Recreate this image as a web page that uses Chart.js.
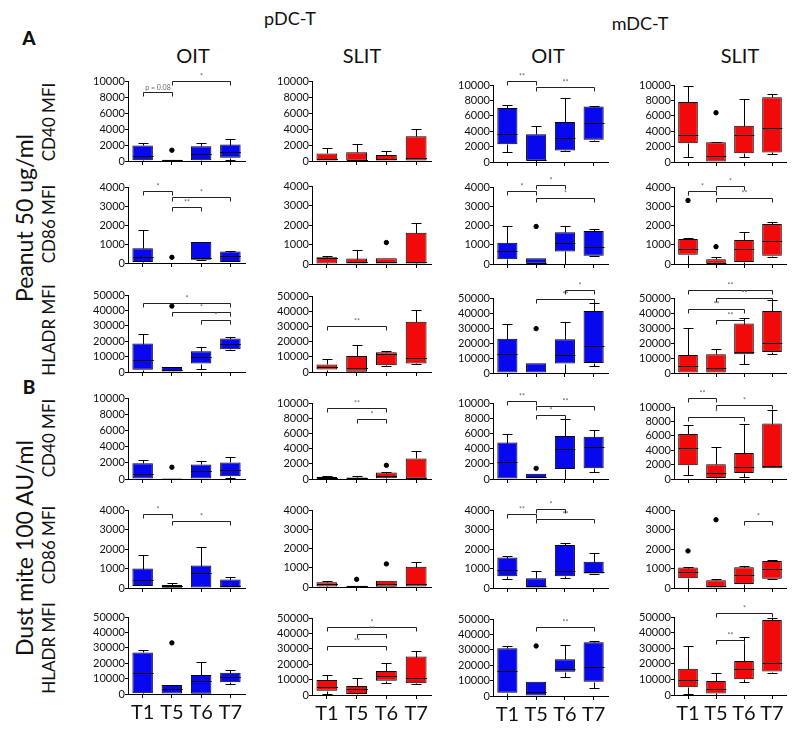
<!DOCTYPE html>
<html>
<head>
<meta charset="utf-8">
<script src="https://cdn.jsdelivr.net/npm/chart.js@4.4.1/dist/chart.umd.min.js"></script>
<style>
  body { margin: 0; background: #fff; }
  #page { position: relative; width: 800px; height: 731px; overflow: hidden; font-family: Lato, "Open Sans", sans-serif; color: #111; }
  #page canvas { position: absolute; }
  .t { position: absolute; white-space: nowrap; transform: translate(-50%, -50%); }
  .v { position: absolute; white-space: nowrap; transform: translate(-50%, -50%) rotate(-90deg); }
</style>
</head>
<body>
<div id="page">
  <div class="t" style="left:290px;top:18px;font-size:18px">pDC-T</div>
  <div class="t" style="left:640px;top:23px;font-size:18px">mDC-T</div>
  <div class="t" style="left:193px;top:55px;font-size:20px">OIT</div>
  <div class="t" style="left:362px;top:55px;font-size:20px">SLIT</div>
  <div class="t" style="left:548px;top:55px;font-size:20px">OIT</div>
  <div class="t" style="left:740px;top:55px;font-size:20px">SLIT</div>
  <div class="t" style="left:29px;top:37px;font-size:19px;font-weight:900">A</div>
  <div class="t" style="left:29px;top:386px;font-size:19px;font-weight:900">B</div>
  <div class="v" style="left:24px;top:218px;font-size:23px">Peanut 50 ug/ml</div>
  <div class="v" style="left:24px;top:548px;font-size:23px">Dust mite 100 AU/ml</div>
  <div class="v" style="left:48px;top:122px;font-size:17px">CD40 MFI</div>
  <div class="v" style="left:48px;top:224px;font-size:17px">CD86 MFI</div>
  <div class="v" style="left:48px;top:330px;font-size:17px">HLADR MFI</div>
  <div class="v" style="left:48px;top:438px;font-size:17px">CD40 MFI</div>
  <div class="v" style="left:48px;top:545px;font-size:17px">CD86 MFI</div>
  <div class="v" style="left:48px;top:648px;font-size:17px">HLADR MFI</div>
</div>
<script>
// Categories
const times = ['T1', 'T5', 'T6', 'T7'];

// Each box: [min, q1, median, q3, max]
// A - Peanut 50 ug/ml
const a40_pOIT  = [[0,100,650,1950,2300],[0,50,100,150,150],[0,100,900,1850,2250],[100,400,1100,2050,2700]];
const a40_pSLIT = [[0,50,200,950,1600],[0,50,100,1100,2100],[0,50,200,750,1300],[0,50,400,3100,4000]];
const a40_mOIT  = [[1300,2300,3650,7000,7400],[0,200,300,3600,4700],[1400,1500,3100,5200,8300],[2750,2900,5100,7200,7300]];
const a40_mSLIT = [[700,2450,3450,7800,9900],[0,0,800,2550,2650],[700,1150,3500,4700,8200],[1000,1250,4400,8400,8800]];

const a86_pOIT  = [[0,50,300,780,1750],[0,0,0,0,0],[150,170,250,1100,1100],[50,50,380,600,650]];
const a86_pSLIT = [[0,30,300,350,400],[0,20,100,280,740],[0,20,100,300,300],[0,30,100,1600,2100]];
const a86_mOIT  = [[0,250,650,1100,2000],[0,0,50,300,300],[0,650,1100,1650,2000],[400,430,900,1720,1800]];
const a86_mSLIT = [[0,480,800,1300,1350],[0,0,50,250,350],[0,100,800,1250,1650],[350,430,1200,2080,2200]];

const aHL_pOIT  = [[0,1500,8000,18500,25000],[0,0,1500,3300,3300],[2200,5500,10000,13500,16000],[14500,14800,18000,21700,23000]];
const aHL_pSLIT = [[0,1600,3300,5000,8500],[0,200,2500,10500,17500],[4000,4500,12000,13000,14000],[5500,5600,9500,33000,40500]];
const aHL_mOIT  = [[0,300,12500,22800,32500],[0,0,200,6500,6500],[0,6300,12000,22500,34000],[5000,6700,17800,41300,46700]];
const aHL_mSLIT = [[0,300,4500,12000,30000],[0,300,3600,12500,16300],[6000,12500,14000,33000,36500],[12500,14000,20000,41300,48500]];

// B - Dust mite 100 AU/ml
const b40_pOIT  = [[0,50,650,1950,2300],[0,30,50,100,100],[0,50,950,1800,2250],[100,350,1100,2050,2700]];
const b40_pSLIT = [[0,50,150,300,450],[0,30,100,200,400],[0,100,400,850,900],[0,50,150,2700,3700]];
const b40_mOIT  = [[0,50,2200,4800,5950],[100,100,300,700,700],[0,1300,3900,5650,7850],[900,1400,4250,5550,6500]];
const b40_mSLIT = [[600,1900,4250,6250,7550],[0,150,850,2050,4500],[300,850,1650,3600,7650],[1500,1500,1750,7700,9600]];

const b86_pOIT  = [[100,100,400,1000,1700],[0,10,100,150,270],[0,20,750,1150,2100],[0,20,80,430,580]];
const b86_pSLIT = [[0,30,150,250,320],[0,10,30,60,60],[0,10,150,330,330],[0,20,150,1050,1300]];
const b86_mOIT  = [[480,600,900,1560,1630],[0,0,100,500,870],[520,600,870,2200,2300],[700,740,800,1340,1770]];
const b86_mSLIT = [[0,500,820,1050,1100],[0,0,100,400,480],[0,200,680,1060,1120],[460,480,950,1380,1450]];

const bHL_pOIT  = [[0,500,13400,27000,28400],[0,0,3000,5800,5800],[0,100,8500,12300,20900],[6500,7600,10800,13800,15500]];
const bHL_pSLIT = [[650,2800,5400,9800,13000],[0,600,3700,5900,10900],[7600,9300,12400,15600,20600],[7200,7600,11000,25000,28700]];
const bHL_mOIT  = [[0,2100,16500,31000,32200],[0,0,2800,9300,9300],[12500,15800,17800,23800,33100],[5000,9300,19000,34900,35800]];
const bHL_mSLIT = [[500,5000,9700,16800,31600],[0,1000,3700,9000,14400],[8600,10100,16400,21800,37500],[14400,15000,20400,48000,49500]];

// Outliers: [category index, value]
const a40_pOIT_out = [[1,1350]];
const a40_mSLIT_out = [[1,6400]];
const a86_pOIT_out = [[1,300]];
const a86_pSLIT_out = [[2,1100]];
const a86_mOIT_out = [[1,1950]];
const a86_mSLIT_out = [[0,3300],[1,900]];
const aHL_pOIT_out = [[1,42800]];
const aHL_mOIT_out = [[1,29600]];
const b40_pOIT_out = [[1,1450]];
const b40_pSLIT_out = [[2,1800]];
const b40_mOIT_out = [[1,1400]];
const b86_pSLIT_out = [[1,400],[2,1200]];
const b86_mSLIT_out = [[0,1900],[1,3500]];
const bHL_pOIT_out = [[1,33200]];
const bHL_mOIT_out = [[1,32500]];

// Significance brackets: [from, to, value, label]
const a40_pOIT_sig = [[0,1,8600,'p = 0.08'],[1,3,10000,'*']];
const a40_mOIT_sig = [[0,1,10500,'**'],[1,3,9700,'**']];
const a86_pOIT_sig = [[0,1,3800,'*'],[1,3,3500,'*'],[1,2,2950,'**']];
const a86_mOIT_sig = [[0,1,3800,'*'],[1,2,4080,'*'],[1,3,3450,'*']];
const a86_mSLIT_sig = [[0,1,3800,'*'],[1,2,4050,'*'],[1,3,3450,'**']];
const aHL_pOIT_sig = [[0,3,45000,'*'],[1,3,39000,'*'],[2,3,34000,'*']];
const aHL_pSLIT_sig = [[0,2,30000,'**']];
const aHL_mOIT_sig = [[1,3,49500,'**'],[2,3,55600,'*']];
const aHL_mSLIT_sig = [[0,3,55600,'**'],[1,3,50300,'**'],[0,2,42500,'**'],[1,2,35600,'**']];
const b40_pSLIT_sig = [[0,2,9350,'**'],[1,2,7850,'*']];
const b40_mOIT_sig = [[0,1,10200,'**'],[1,3,9600,'**'],[1,2,8400,'*']];
const b40_mSLIT_sig = [[0,1,11300,'**'],[1,3,10300,'*'],[0,2,8600,'*']];
const b86_pOIT_sig = [[0,1,3780,'*'],[1,3,3430,'*']];
const b86_mOIT_sig = [[0,1,3800,'**'],[1,2,4070,'*'],[1,3,3550,'**']];
const b86_mSLIT_sig = [[2,3,3430,'*']];
const bHL_pSLIT_sig = [[0,3,44000,'*'],[1,2,39400,'**'],[0,2,31700,'**']];
const bHL_mOIT_sig = [[1,3,45000,'**']];
const bHL_mSLIT_sig = [[1,3,52800,'*'],[1,2,35000,'**']];

// Y axis per row
const rowMax = [10000, 4000, 50000, 10000, 4000, 50000];
const rowStep = [2000, 1000, 10000, 2000, 1000, 10000];

// grid of panels [row][col]
const grid = [
  [[a40_pOIT, a40_pOIT_out, a40_pOIT_sig], [a40_pSLIT, [], []], [a40_mOIT, [], a40_mOIT_sig], [a40_mSLIT, a40_mSLIT_out, []]],
  [[a86_pOIT, a86_pOIT_out, a86_pOIT_sig], [a86_pSLIT, a86_pSLIT_out, []], [a86_mOIT, a86_mOIT_out, a86_mOIT_sig], [a86_mSLIT, a86_mSLIT_out, a86_mSLIT_sig]],
  [[aHL_pOIT, aHL_pOIT_out, aHL_pOIT_sig], [aHL_pSLIT, [], aHL_pSLIT_sig], [aHL_mOIT, aHL_mOIT_out, aHL_mOIT_sig], [aHL_mSLIT, [], aHL_mSLIT_sig]],
  [[b40_pOIT, b40_pOIT_out, []], [b40_pSLIT, b40_pSLIT_out, b40_pSLIT_sig], [b40_mOIT, b40_mOIT_out, b40_mOIT_sig], [b40_mSLIT, [], b40_mSLIT_sig]],
  [[b86_pOIT, [], b86_pOIT_sig], [b86_pSLIT, b86_pSLIT_out, []], [b86_mOIT, [], b86_mOIT_sig], [b86_mSLIT, b86_mSLIT_out, b86_mSLIT_sig]],
  [[bHL_pOIT, bHL_pOIT_out, []], [bHL_pSLIT, [], bHL_pSLIT_sig], [bHL_mOIT, bHL_mOIT_out, bHL_mOIT_sig], [bHL_mSLIT, [], bHL_mSLIT_sig]]
];

// Layout (pixels on the page)
const colAxisX = [128, 312, 493, 674];
const colRight = [246, 432, 609, 787];
const rowTopY = [[81,81,85,85],[187,186,187,187],[295,296,298,298],[398,403,403,407],[510,510,510,510],[617,618,619,617]];
const rowZeroY = [[161,161,162,162],[263,264,264,264],[372,372,373,373],[479,479,479,479],[588,587,588,588],[694,695,696,695]];
const fills = ['#0808ee', '#f20a0a', '#0808ee', '#f20a0a'];
const YW = 44, PT = 24, PR = 4;

Chart.defaults.font.family = 'Lato, "Open Sans", sans-serif';
Chart.defaults.color = '#222';

function extras(stats, sig) {
  return {
    id: 'boxExtras',
    afterDatasetsDraw(chart) {
      const { ctx, scales: { x, y } } = chart;
      const meta = chart.getDatasetMeta(0);
      const px = v => Math.round(v) + 0.5;
      ctx.save();
      ctx.strokeStyle = '#000';
      ctx.lineWidth = 1;
      stats.forEach((s, i) => {
        const cx = px(x.getPixelForValue(i));
        const hw = meta.data[i].width / 2;
        const cap = Math.round(meta.data[i].width / 4);
        const [mn, q1, md, q3, mx] = s.map(v => px(y.getPixelForValue(v)));
        ctx.beginPath();
        if (s[4] > s[3]) {
          ctx.moveTo(cx, q3); ctx.lineTo(cx, mx);
          ctx.moveTo(cx - cap, mx); ctx.lineTo(cx + cap, mx);
        }
        if (s[0] < s[1]) {
          ctx.moveTo(cx, q1); ctx.lineTo(cx, mn);
          ctx.moveTo(cx - cap, mn); ctx.lineTo(cx + cap, mn);
        }
        if (s[3] > s[1]) {
          ctx.moveTo(cx - hw, md); ctx.lineTo(cx + hw, md);
        }
        ctx.stroke();
      });
      ctx.strokeStyle = '#222';
      ctx.fillStyle = '#666';
      ctx.font = '7px Lato, sans-serif';
      ctx.textAlign = 'center';
      ctx.textBaseline = 'bottom';
      sig.forEach(([a, b, v, label]) => {
        const x1 = px(x.getPixelForValue(a)), x2 = px(x.getPixelForValue(b));
        const yy = px(y.getPixelForValue(v));
        ctx.beginPath();
        ctx.moveTo(x1, yy + 4); ctx.lineTo(x1, yy); ctx.lineTo(x2, yy); ctx.lineTo(x2, yy + 4);
        ctx.stroke();
        ctx.fillText(label, (x1 + x2) / 2, yy - 1);
      });
      ctx.restore();
    }
  };
}

const page = document.getElementById('page');

grid.forEach((row, r) => {
  row.forEach(([stats, outs, sig], c) => {
    const last = r === grid.length - 1;
    const XH = last ? 40 : 8;
    const top = rowTopY[r][c], zero = rowZeroY[r][c];
    const left = colAxisX[c] - YW;
    const w = colRight[c] - left + PR;
    const h = PT + (zero - top) + XH;
    const canvas = document.createElement('canvas');
    canvas.width = w;
    canvas.height = h;
    canvas.style.left = left + 'px';
    canvas.style.top = (top - PT) + 'px';
    page.appendChild(canvas);

    const outData = times.map((t, i) => {
      const o = outs.find(p => p[0] === i);
      return o ? o[1] : null;
    });

    new Chart(canvas, {
      type: 'bar',
      data: {
        labels: times,
        datasets: [
          {
            data: stats.map(s => [s[1], s[3]]),
            backgroundColor: fills[c],
            borderColor: '#000',
            borderWidth: 1,
            borderSkipped: false,
            barPercentage: 0.7,
            categoryPercentage: 1
          },
          {
            type: 'line',
            data: outData,
            showLine: false,
            pointRadius: 2.2,
            pointBackgroundColor: '#000',
            pointBorderColor: '#000',
            clip: false
          }
        ]
      },
      options: {
        responsive: false,
        devicePixelRatio: 1,
        animation: false,
        layout: { padding: { top: PT, right: PR, left: 0, bottom: 0 } },
        plugins: { legend: { display: false }, tooltip: { enabled: false } },
        scales: {
          x: {
            offset: true,
            grid: { display: true, drawOnChartArea: false, drawTicks: true, tickLength: 4, offset: false, color: '#000' },
            border: { display: true, color: '#000', width: 1 },
            ticks: { display: last, color: '#111', font: { size: 20 }, padding: 3, maxRotation: 0 },
            afterFit: s => { s.height = XH; }
          },
          y: {
            min: 0,
            max: rowMax[r],
            grid: { display: true, drawOnChartArea: false, drawTicks: true, tickLength: 3, color: '#000' },
            border: { display: true, color: '#000', width: 1 },
            ticks: {
              stepSize: rowStep[r],
              autoSkip: false,
              color: '#111',
              font: { size: 11 },
              padding: 0,
              callback: v => String(v)
            },
            afterFit: s => { s.width = YW; }
          }
        }
      },
      plugins: [extras(stats, sig)]
    });
  });
});
</script>
</body>
</html>
